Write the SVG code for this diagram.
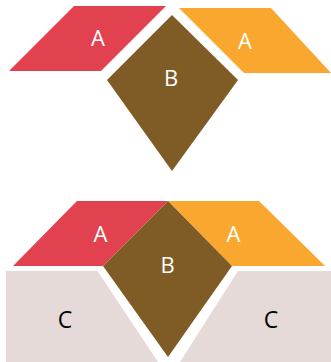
<svg xmlns="http://www.w3.org/2000/svg" width="331" height="362" viewBox="0 0 331 362">
<style>
.a1{fill:#E24150}.a2{fill:#F9A72E}.b{fill:#7F5C26}.c{fill:#E6DAD8}
text{font-family:"Open Sans","Noto Sans",sans-serif;text-anchor:middle}
.w{fill:#FFFFFF;font-size:22px}.k{fill:#000000;font-size:23px}
</style>
<rect width="331" height="362" fill="#FFFFFF"/>
<g id="top">
<g id="topA1"><polygon class="a1" points="74,6 166,6 101,71 9,71"/><text class="w" x="98" y="46">A</text></g>
<g id="topA2"><polygon class="a2" points="179,8 271,8 331,73 244,73"/><text class="w" x="245" y="49">A</text></g>
<g id="topB"><polygon class="b" points="172,15 238,80 172,171 107,80"/><text class="w" x="171" y="86">B</text></g>
</g>
<g id="bottom">
<g id="botC1"><polygon class="c" points="6,271 97.5,271 158,362 6,362"/><text class="k" x="65" y="328">C</text></g>
<g id="botC2"><polygon class="c" points="238,271 331,271 331,362 180,362"/><text class="k" x="271" y="328">C</text></g>
<g id="botA1"><polygon class="a1" points="77,201 168,201 103,266 13,266"/><text class="w" x="100.5" y="242">A</text></g>
<g id="botA2"><polygon class="a2" points="168,201 259,201 325,266 232,266"/><text class="w" x="233.5" y="242">A</text></g>
<g id="botB"><polygon class="b" points="168,201 232,266 168,357 103,266"/><text class="w" x="167.5" y="273">B</text></g>
</g>
<g id="connectors"/>
</svg>
